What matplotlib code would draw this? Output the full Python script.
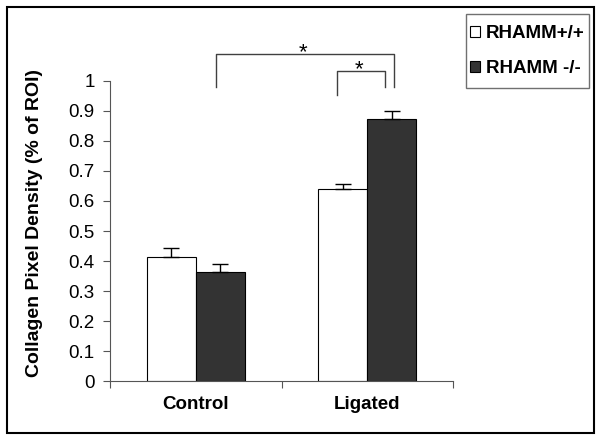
import matplotlib.pyplot as plt
import matplotlib.patches as patches
import numpy as np

groups = ["Control", "Ligated"]
series_names = ["RHAMM+/+", "RHAMM -/-"]
wt_vals = [0.413, 0.641]
ko_vals = [0.363, 0.873]
wt_err = [0.030, 0.017]
ko_err = [0.027, 0.028]

# significance brackets: (x_left, x_right, y_top, y_left_end, y_right_end)
brackets = [
    (0.118, 1.156, 1.090, 0.980, 0.980),
    (0.824, 1.104, 1.034, 0.952, 0.979),
]

plt.rcParams["font.family"] = ["Liberation Sans", "DejaVu Sans"]

fig = plt.figure(figsize=(6.01, 4.40), dpi=100)
ax = fig.add_axes([0.183, 0.134, 0.571, 0.682])

x = np.arange(len(groups))
w = 0.285
ax.bar(x - w / 2, wt_vals, w, color="white", edgecolor="black", linewidth=0.8,
       label=series_names[0], zorder=2)
ax.bar(x + w / 2, ko_vals, w, color="#333333", edgecolor="black", linewidth=0.8,
       label=series_names[1], zorder=2)
ax.errorbar(x - w / 2, wt_vals, yerr=[[0, 0], wt_err], fmt="none", ecolor="black",
            elinewidth=1, capsize=6, capthick=1, zorder=3)
ax.errorbar(x + w / 2, ko_vals, yerr=[[0, 0], ko_err], fmt="none", ecolor="black",
            elinewidth=1, capsize=6, capthick=1, zorder=3)

for xl, xr, yt, yl, yr in brackets:
    ax.plot([xl, xl, xr, xr], [yl, yt, yt, yr], color="#404040", lw=1,
            clip_on=False)
    ax.text((xl + xr) / 2 - 0.01, yt - 0.015, "*", ha="center", va="baseline",
            fontsize=16, clip_on=False)

ax.set_xlim(-0.5, 1.5)
ax.set_ylim(0, 1)
ax.set_yticks(np.arange(0, 1.01, 0.1))
ax.set_yticklabels(["0"] + [f"{v:.1f}" for v in np.arange(0.1, 0.95, 0.1)] + ["1"])
ax.set_xticks([-0.5, 0.5, 1.5])
ax.set_xticklabels([])
ax.set_xticks(x, minor=True)
ax.set_xticklabels(groups, minor=True, fontsize=13.5, fontweight="bold")
ax.tick_params(axis="x", which="minor", length=0, pad=11)
ax.tick_params(axis="x", which="major", length=5, color="#555555")
ax.tick_params(axis="y", length=5, labelsize=13.5, pad=6, color="#555555")
ax.set_ylabel("Collagen Pixel Density (% of ROI)", fontsize=14,
              fontweight="bold")
ax.yaxis.set_label_coords(-0.195, 0.528)

for s in ["top", "right"]:
    ax.spines[s].set_visible(False)
for s in ["left", "bottom"]:
    ax.spines[s].set_color("#555555")

leg = fig.legend(loc="center", bbox_to_anchor=(527.5 / 601, 1 - 51 / 440),
                 frameon=False, prop={"size": 13.5, "weight": "bold"},
                 handlelength=0.55, handleheight=0.55, handletextpad=0.3,
                 labelspacing=0.95, borderpad=0)
fig.patches.append(patches.Rectangle((466 / 601, 1 - 88 / 440), 123 / 601, 74 / 440,
                                     transform=fig.transFigure, fill=False,
                                     edgecolor="#707070", linewidth=1))

fig.patches.append(patches.Rectangle((7 / 601, 7 / 440), 587 / 601, 426 / 440,
                                     transform=fig.transFigure, fill=False,
                                     edgecolor="black", linewidth=1.5))

fig.savefig("out.png", dpi=100)
